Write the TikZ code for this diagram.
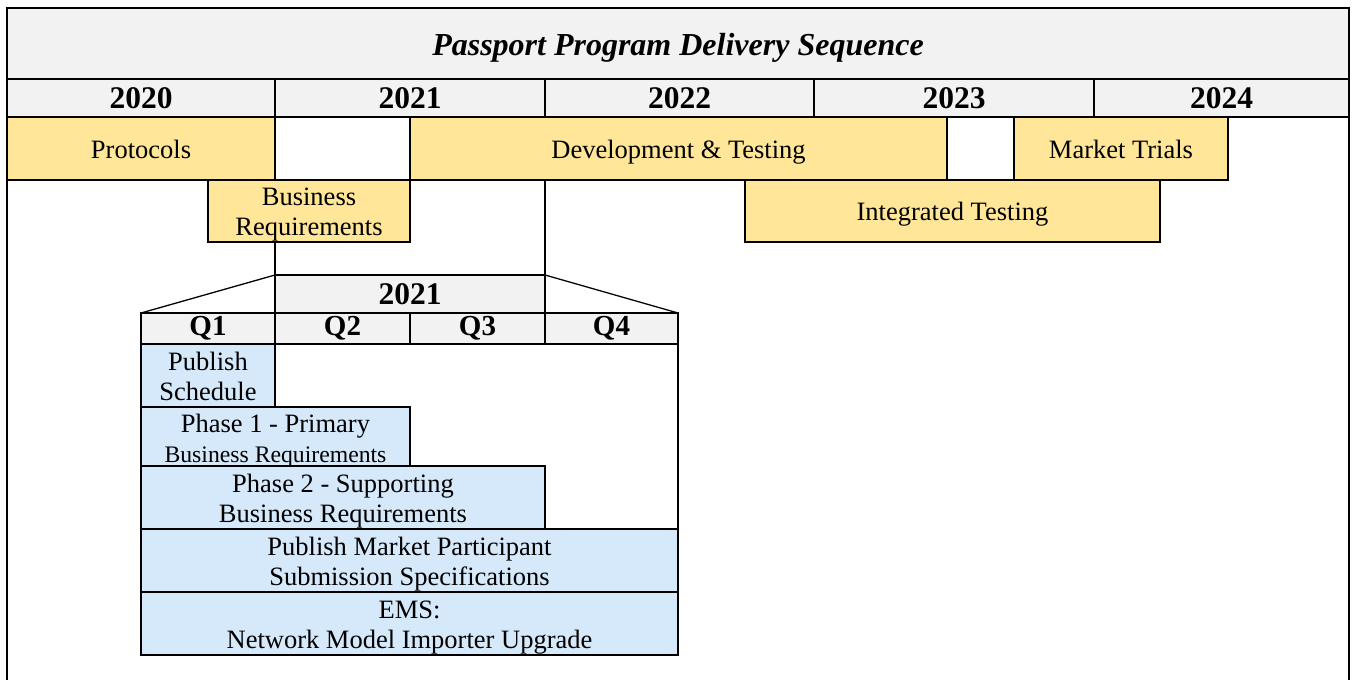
\documentclass[tikz,border=0pt]{standalone}
\usepackage{fontspec}
\setmainfont{Liberation Serif}
\definecolor{hdrgray}{HTML}{F2F2F2}
\definecolor{taskyel}{HTML}{FFE699}
\definecolor{taskblue}{HTML}{D5E9FB}
\newcommand{\topstrutx}{\rule{0pt}{0.95em}}
\newcommand{\botstrutx}{\rule[-0.2em]{0pt}{0pt}}
\tikzset{
  cell/.style={draw, line width=2.6pt, inner sep=0pt, outer sep=0pt, anchor=north west, align=center},
  hdr/.style={cell, fill=hdrgray, font=\fontsize{31.5}{34}\selectfont\bfseries},
  qhdr/.style={cell, fill=hdrgray, line width=2.2pt, font=\fontsize{29}{31}\selectfont\bfseries},
  ybox/.style={cell, fill=taskyel, font=\fontsize{26.5}{30}\selectfont},
  bbox/.style={cell, fill=taskblue, font=\fontsize{26.5}{30}\selectfont},
  zoomline/.style={line width=1.3pt},
  gridline/.style={line width=2.2pt},
}
\begin{document}
\begin{tikzpicture}[x=1pt, y=-1pt]
\useasboundingbox (0,0) rectangle (1352,680);
% outer frame
\coordinate (fbl) at (7,682);
\coordinate (fbr) at (1349,682);
\node[cell, fill=hdrgray, minimum width=1342pt, minimum height=71pt,
      font=\fontsize{32}{34}\selectfont\bfseries\itshape] (title) at (7,8) {\topstrutx Passport Program Delivery Sequence\botstrutx};
\draw[line width=2.8pt] (title.north west) -- (fbl);
\draw[line width=2.8pt] (title.north east) -- (fbr);
% years
\node[hdr, minimum width=268pt, minimum height=38pt] (y20) at (7,79) {2020};
\node[hdr, minimum width=270pt, minimum height=38pt] (y21) at (275,79) {2021};
\node[hdr, minimum width=269pt, minimum height=38pt] (y22) at (545,79) {2022};
\node[hdr, minimum width=280pt, minimum height=38pt] (y23) at (814,79) {2023};
\node[hdr, minimum width=255pt, minimum height=38pt] (y24) at (1094,79) {2024};
% zoomed 2021 header
\node[qhdr, minimum width=270pt, minimum height=38pt, font=\fontsize{31.5}{34}\selectfont\bfseries] (zh) at (275,275) {2021};
% lines from 2021 column down to its zoomed header
\draw[gridline] (y21.south west) -- (zh.north west);
\draw[gridline] (y21.south east) -- (zh.north east);
% row 1
\node[ybox, minimum width=268pt, minimum height=63pt] (prot) at (7,117) {\topstrutx Protocols\botstrutx};
\node[ybox, minimum width=537pt, minimum height=63pt] (dev) at (410,117) {\topstrutx Development \& Testing\botstrutx};
\node[ybox, minimum width=214pt, minimum height=63pt] (mt) at (1014,117) {\topstrutx Market Trials\botstrutx};
% row 2
\node[ybox, minimum width=202pt, minimum height=62pt] (br) at (208,180) {\topstrutx Business\\Requirements\botstrutx};
\node[ybox, minimum width=415pt, minimum height=62pt] (it) at (745,180) {\topstrutx Integrated Testing\botstrutx};
% quarters
\node[qhdr, minimum width=134pt, minimum height=31pt] (q1) at (141,313) {Q1};
\node[qhdr, minimum width=135pt, minimum height=31pt] (q2) at (275,313) {Q2};
\node[qhdr, minimum width=135pt, minimum height=31pt] (q3) at (410,313) {Q3};
\node[qhdr, minimum width=133pt, minimum height=31pt] (q4) at (545,313) {Q4};
\draw[zoomline] (zh.north west) -- (q1.north west);
\draw[zoomline] (zh.north east) -- (q4.north east);
% zoom body
\node[cell, minimum width=537pt, minimum height=311pt] (zbody) at (141,344) {};
\node[bbox, minimum width=134pt, minimum height=63pt] (ps) at (141,344) {\topstrutx Publish\\Schedule\botstrutx};
\node[bbox, minimum width=269pt, minimum height=59pt] (p1) at (141,407) {\topstrutx Phase 1 - Primary\\{\fontsize{23.7}{27}\selectfont Business Requirements}\botstrutx};
\node[bbox, minimum width=404pt, minimum height=63pt] (p2) at (141,466) {\topstrutx Phase 2 - Supporting\\Business Requirements\botstrutx};
\node[bbox, minimum width=537pt, minimum height=63pt] (mp) at (141,529) {\topstrutx Publish Market Participant\\Submission Specifications\botstrutx};
\node[bbox, minimum width=537pt, minimum height=63pt] (ems) at (141,592) {\topstrutx EMS:\\Network Model Importer Upgrade\botstrutx};
\end{tikzpicture}
\end{document}
